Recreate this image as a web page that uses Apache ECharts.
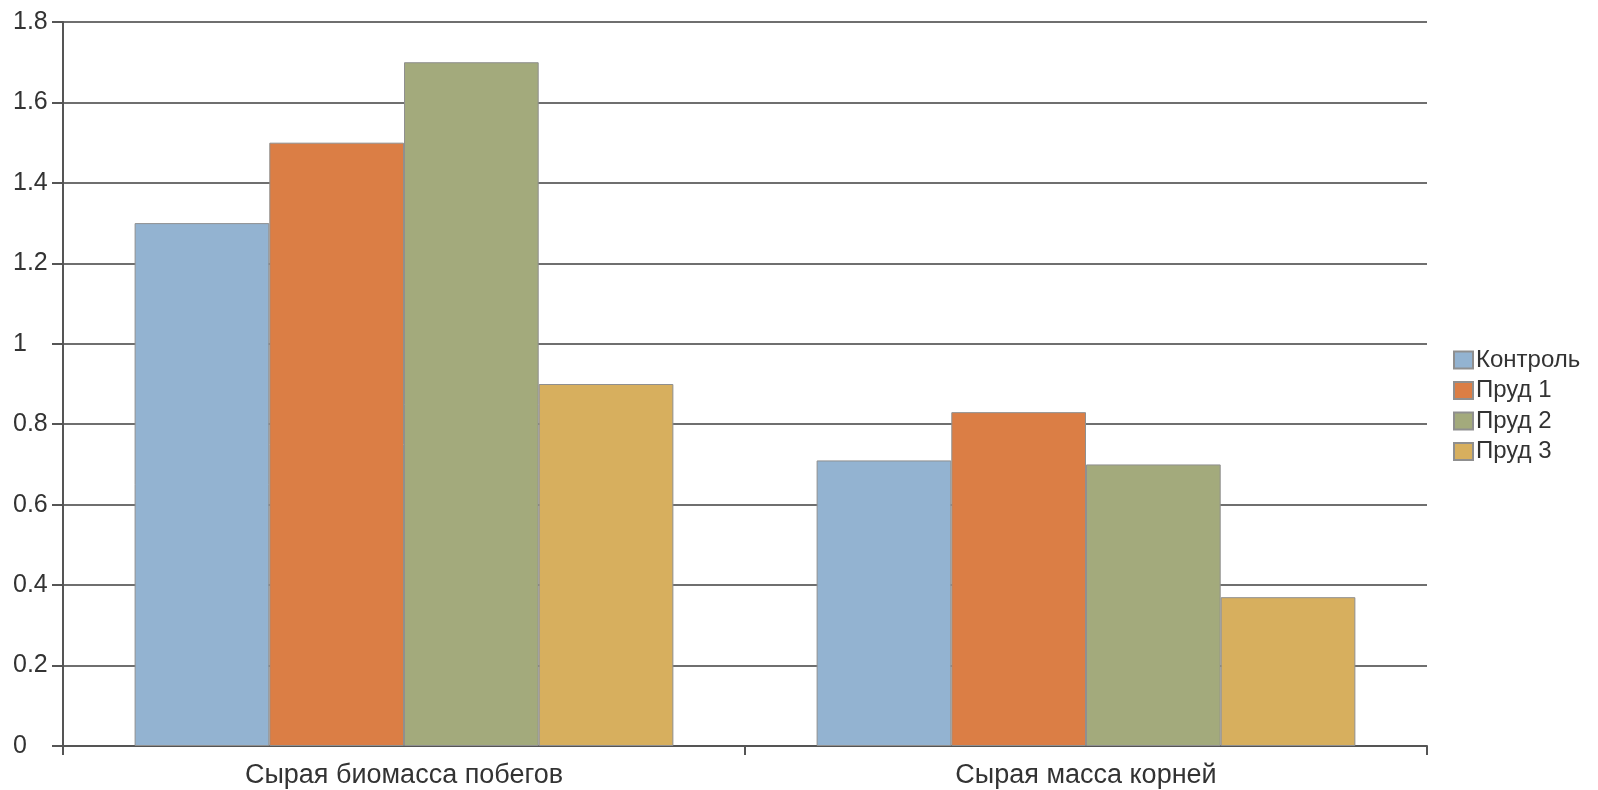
<!DOCTYPE html>
<html>
<head>
<meta charset="utf-8">
<script src="https://cdn.jsdelivr.net/npm/echarts@6/dist/echarts.min.js"></script>
<style>
  html, body { margin: 0; padding: 0; background: #fff; }
  #chart { width: 1598px; height: 790px; }
</style>
</head>
<body>
<div id="chart"></div>
<script>
// Categories and series values
const categories = ['Сырая биомасса побегов', 'Сырая масса корней'];
const seriesNames = ['Контроль', 'Пруд 1', 'Пруд 2', 'Пруд 3'];
const control = [1.3, 0.71];
const pond1 = [1.5, 0.83];
const pond2 = [1.7, 0.70];
const pond3 = [0.9, 0.37];
const colors = ['#93B3D1', '#DB7E45', '#A3AA7C', '#D7AF5E'];
const yMin = 0, yMax = 1.8, yStep = 0.2;

const values = [control, pond1, pond2, pond3];
const FONT = 'Liberation Sans, Arial, sans-serif';

const chart = echarts.init(document.getElementById('chart'));
chart.setOption({
  animation: false,
  backgroundColor: '#fff',
  grid: { left: 63, right: 171, top: 22, bottom: 44, containLabel: false },
  legend: {
    orient: 'vertical',
    left: 1448,
    top: 343,
    padding: 5,
    icon: 'rect',
    itemWidth: 19,
    itemHeight: 17,
    itemGap: 6.5,
    textStyle: { fontFamily: FONT, fontSize: 24, color: '#333', lineHeight: 24, padding: [0, 0, 0, -2] },
    data: seriesNames
  },
  xAxis: {
    type: 'category',
    data: categories,
    axisLine: { lineStyle: { color: '#555', width: 2 } },
    axisTick: { show: true, length: 9, lineStyle: { color: '#555', width: 2 } },
    axisLabel: { fontFamily: FONT, fontSize: 27, color: '#333', margin: 16 },
    splitLine: { show: false }
  },
  yAxis: {
    type: 'value',
    min: yMin,
    max: yMax,
    interval: yStep,
    axisLine: { show: true, lineStyle: { color: '#555', width: 2 } },
    axisTick: { show: true, length: 11, lineStyle: { color: '#555', width: 2 } },
    axisLabel: {
      fontFamily: FONT, fontSize: 25, color: '#333', align: 'left', margin: 50,
      formatter: v => String(Math.round(v * 10) / 10)
    },
    splitLine: { show: true, lineStyle: { color: '#6f6f6f', width: 2 } }
  },
  series: seriesNames.map((name, i) => ({
    name: name,
    type: 'bar',
    data: values[i],
    barGap: '0%',
    barCategoryGap: '21%',
    itemStyle: { color: colors[i], borderColor: '#8f8f8f', borderWidth: 1 }
  }))
});
</script>
</body>
</html>
